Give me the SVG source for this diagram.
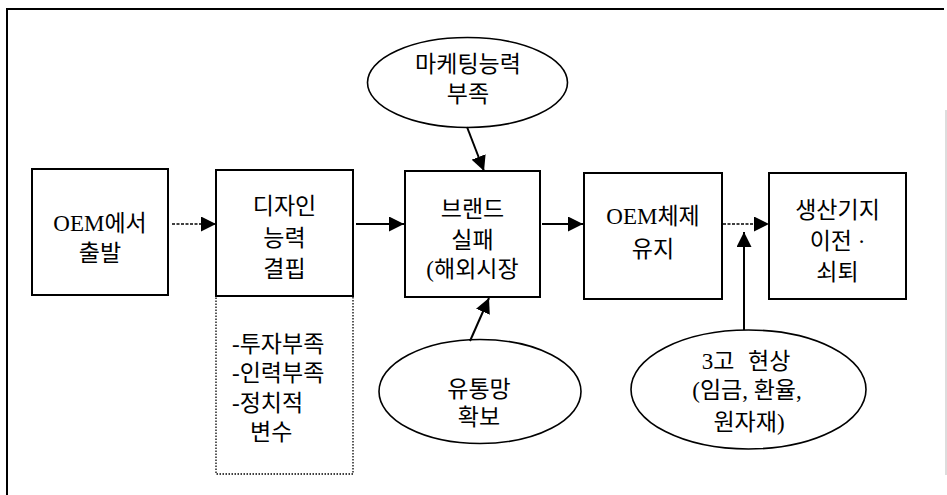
<svg xmlns="http://www.w3.org/2000/svg" width="947" height="495" viewBox="0 0 947 495">
<style>
.box{fill:#fff;stroke:#000;stroke-width:2}
.ell{fill:#fff;stroke:#000;stroke-width:1.6}
.dot{fill:none;stroke:#000;stroke-width:1.3;stroke-dasharray:1.5 1.5}
.t{font-family:"Liberation Serif","Noto Sans CJK KR",serif;font-size:23px;fill:#000;text-anchor:middle}
.tl{font-family:"Liberation Serif","Noto Sans CJK KR",serif;font-size:23px;fill:#000}
.c{stroke:#000;stroke-width:2;fill:none}
.cd{stroke:#000;stroke-width:1.6;fill:none;stroke-dasharray:3 1.5}
</style>
<defs>
<marker id="ah" viewBox="0 0 15 15" refX="15" refY="7.5" markerWidth="15" markerHeight="15" markerUnits="userSpaceOnUse" orient="auto">
<path d="M0,0 L15,7.5 L0,15 z" fill="#000"/>
</marker>
</defs>
<rect width="947" height="495" fill="#fff"/>
<g id="frame">
<path d="M7,495 V9 H944" fill="none" stroke="#000" stroke-width="2"/>
<line x1="946" y1="110" x2="946" y2="475" stroke="#bbb" stroke-width="1"/>
</g>
<g id="n1">
<rect class="box" x="32" y="169" width="136" height="126"/>
<text class="t" x="100" y="231">OEM에서</text>
<text class="t" x="100" y="261">출발</text>
</g>
<g id="n2">
<rect class="box" x="216" y="170" width="137" height="126"/>
<text class="t" x="284.5" y="214">디자인</text>
<text class="t" x="284.5" y="246">능력</text>
<text class="t" x="284.5" y="277">결핍</text>
</g>
<g id="n2note">
<rect class="dot" x="216" y="296" width="137" height="178"/>
<text class="tl" x="232" y="352">-투자부족</text>
<text class="tl" x="232" y="381">-인력부족</text>
<text class="tl" x="232" y="411">-정치적</text>
<text class="tl" x="250" y="440">변수</text>
</g>
<g id="n3">
<rect class="box" x="405" y="171" width="135" height="126"/>
<text class="t" x="472.5" y="217">브랜드</text>
<text class="t" x="472.5" y="248">실패</text>
<text class="t" x="472.5" y="277">(해외시장</text>
</g>
<g id="n4">
<rect class="box" x="584" y="173" width="138" height="126"/>
<text class="t" x="653" y="224">OEM체제</text>
<text class="t" x="653" y="257">유지</text>
</g>
<g id="n5">
<rect class="box" x="769" y="173" width="137" height="126"/>
<text class="t" x="837.5" y="218">생산기지</text>
<text class="t" x="837.5" y="249">이전 ·</text>
<text class="t" x="837.5" y="280">쇠퇴</text>
</g>
<g id="e1">
<ellipse class="ell" cx="467.5" cy="82.5" rx="100" ry="45"/>
<text class="t" x="468" y="72">마케팅능력</text>
<text class="t" x="468" y="102">부족</text>
</g>
<g id="e2">
<ellipse class="ell" cx="480" cy="391.5" rx="101" ry="52"/>
<text class="t" x="479" y="397">유통망</text>
<text class="t" x="479" y="425">확보</text>
</g>
<g id="e3">
<ellipse class="ell" cx="748.5" cy="389.5" rx="117.5" ry="59.5"/>
<text class="t" x="746" y="369" word-spacing="8">3고 현상</text>
<text class="t" x="747" y="398">(임금, 환율,</text>
<text class="t" x="749" y="430">원자재)</text>
</g>
<g id="connectors">
<path class="cd" d="M172,224 H216" marker-end="url(#ah)"/>
<path class="c" d="M356,224 H404" marker-end="url(#ah)"/>
<path class="c" d="M542,224 H583" marker-end="url(#ah)"/>
<path class="cd" d="M723,224 H769" marker-end="url(#ah)"/>
<path class="c" d="M744,330 V232" marker-end="url(#ah)"/>
<path class="c" d="M467,127 L484,171" marker-end="url(#ah)"/>
<path class="c" d="M470,341 L489,298" marker-end="url(#ah)"/>
</g>
</svg>
